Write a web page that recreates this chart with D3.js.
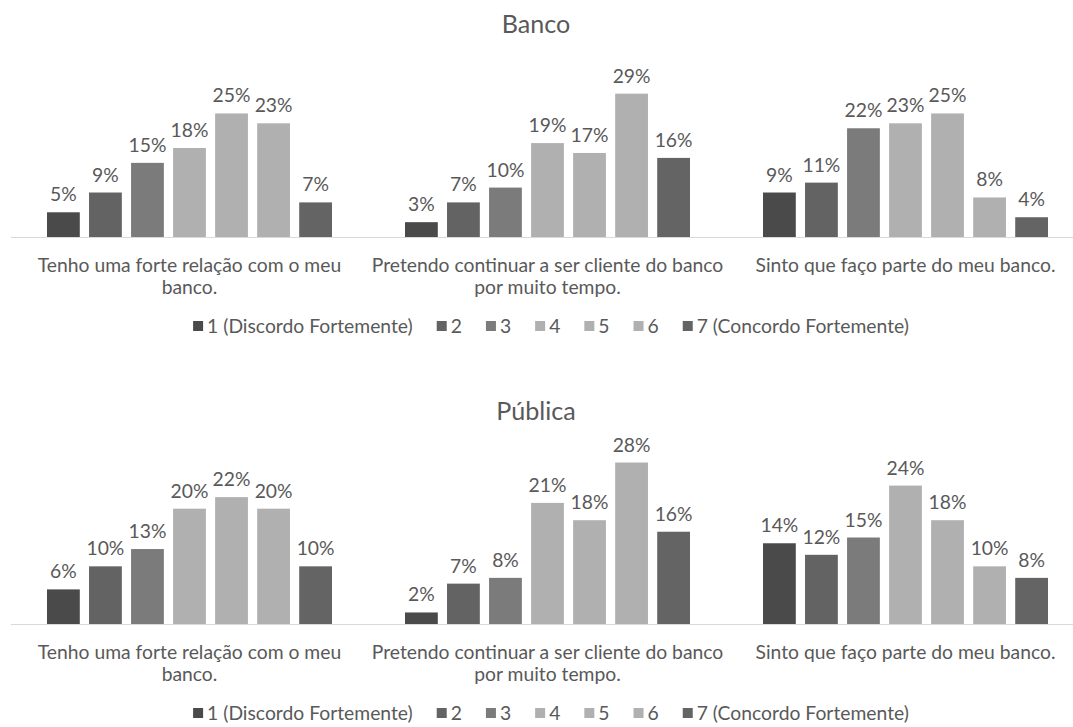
<!DOCTYPE html>
<html><head><meta charset="utf-8">
<script src="https://cdn.jsdelivr.net/npm/d3@7"></script>
<style>body{margin:0;background:#fff}svg{display:block}</style>
</head><body>
<svg id="c" width="1073" height="727"></svg>
<script>
const categories = [
  ["Tenho uma forte relação com o meu", "banco."],
  ["Pretendo continuar a ser cliente do banco", "por muito tempo."],
  ["Sinto que faço parte do meu banco."]
];
const seriesNames = ["1 (Discordo Fortemente)", "2", "3", "4", "5", "6", "7 (Concordo Fortemente)"];
const seriesColors = ["#4a4a4a", "#636363", "#7b7b7b", "#b0b0b0", "#b0b0b0", "#b0b0b0", "#646464"];
// values per question (rows) by answer level (columns), in %
const bancoValues = [
  [5, 9, 15, 18, 25, 23, 7],
  [3, 7, 10, 19, 17, 29, 16],
  [9, 11, 22, 23, 25, 8, 4]
];
const publicaValues = [
  [6, 10, 13, 20, 22, 20, 10],
  [2, 7, 8, 21, 18, 28, 16],
  [14, 12, 15, 24, 18, 10, 8]
];
const panels = [
  {title: "Banco", values: bancoValues, yMax: 35, top: 0},
  {title: "Pública", values: publicaValues, yMax: 30, top: 387}
];

const FONT = "Lato, 'Open Sans', sans-serif";
const svg = d3.select("#c");
// fit font size so the first category line roughly matches the reference width
const probe = svg.append("text").style("font-family", FONT).style("font-size", "100px").text(categories[0][0]);
const fs = 1.04 * 100 * 292 / probe.node().getComputedTextLength();
probe.remove();
const textColor = "#595959";

const x0 = d3.scaleBand().domain(d3.range(categories.length)).range([10.5, 1084.5]).padding(0);
const x1 = d3.scaleBand().domain(d3.range(seriesNames.length)).range([36.5, 321.5]).paddingInner(0.22).paddingOuter(0);

panels.forEach(p => {
  const g = svg.append("g").attr("transform", `translate(0,${p.top})`);
  const baseY = 237, plotH = 173;
  const y = d3.scaleLinear().domain([0, p.yMax]).range([baseY, baseY - plotH]);

  g.append("text").attr("x", 536).attr("y", 33).attr("text-anchor", "middle")
    .style("font-family", FONT).style("font-size", (fs * 1.3) + "px").attr("fill", textColor).text(p.title);

  g.append("line").attr("x1", 11).attr("x2", 1073).attr("y1", baseY + 0.5).attr("y2", baseY + 0.5)
    .attr("stroke", "#d9d9d9").attr("stroke-width", 1);

  const grp = g.selectAll("g.grp").data(p.values).join("g").attr("class", "grp")
    .attr("transform", (d, i) => `translate(${x0(i)},0)`);
  grp.selectAll("rect").data(d => d).join("rect")
    .attr("x", (d, j) => x1(j)).attr("width", x1.bandwidth())
    .attr("y", d => y(d)).attr("height", d => baseY - y(d))
    .attr("fill", (d, j) => seriesColors[j]);
  grp.selectAll("text.lbl").data(d => d).join("text").attr("class", "lbl")
    .attr("x", (d, j) => x1(j) + x1.bandwidth() / 2).attr("y", d => y(d) - 11)
    .attr("text-anchor", "middle").style("font-family", FONT).style("font-size", fs + "px")
    .attr("fill", textColor).text(d => d + "%");

  // category labels
  const cat = g.selectAll("text.cat").data(categories).join("text").attr("class", "cat")
    .attr("text-anchor", "middle").style("font-family", FONT).style("font-size", fs + "px").attr("fill", textColor);
  cat.selectAll("tspan").data((d, i) => d.map(t => ({t, i}))).join("tspan")
    .attr("x", d => x0(d.i) + x0.bandwidth() / 2)
    .attr("y", (d, k) => 272 + k * 22)
    .text(d => d.t);

  // legend
  const lg = g.append("g");
  let cx = 0;
  seriesNames.forEach((s, j) => {
    const it = lg.append("g").attr("transform", `translate(${cx},0)`);
    it.append("rect").attr("x", 0).attr("y", -5).attr("width", 10).attr("height", 10).attr("fill", seriesColors[j]);
    const t = it.append("text").attr("x", 14).attr("y", 0).attr("dy", "0.35em")
      .style("font-family", FONT).style("font-size", fs + "px").attr("fill", textColor).text(s);
    cx += 14 + t.node().getComputedTextLength() + 24;
  });
  const lw = cx - 24;
  lg.attr("transform", `translate(${551 - lw / 2},326)`);
});
</script>
</body></html>
